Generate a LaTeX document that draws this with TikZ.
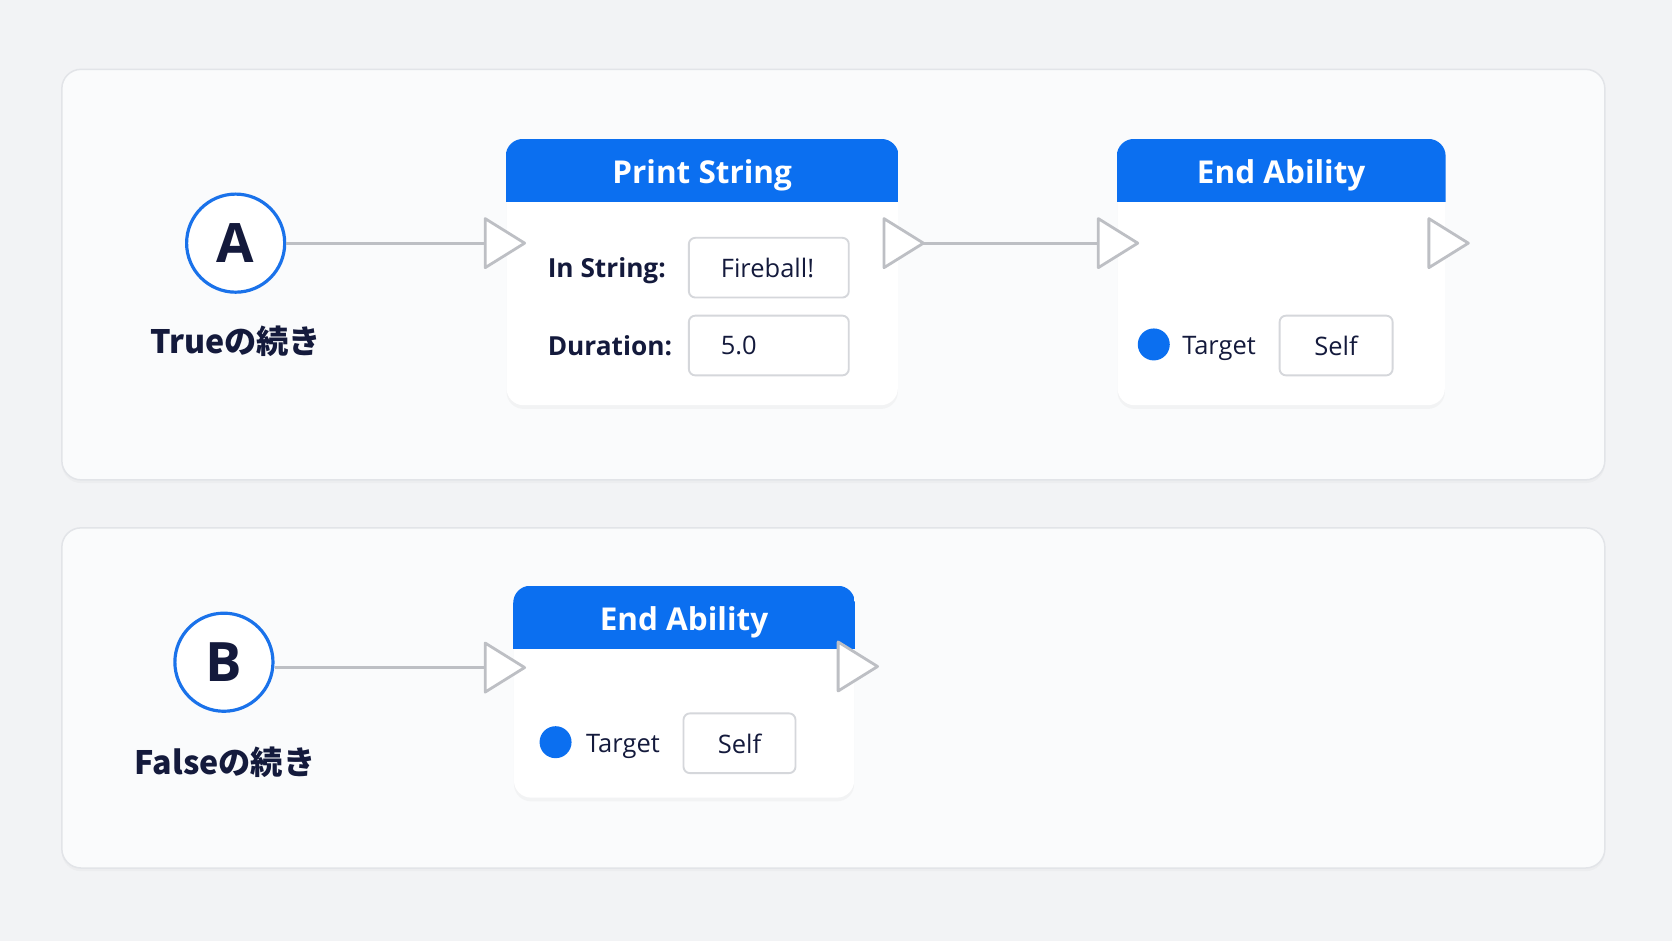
\documentclass[tikz,border=0pt]{standalone}
\usepackage{fontspec}
\setmainfont{Open Sans}
\newfontfamily\jpfont{Noto Sans CJK JP}
\usetikzlibrary{shadows}
\definecolor{bgGray}{HTML}{F2F3F5}
\definecolor{panelFill}{HTML}{FAFBFC}
\definecolor{panelLine}{HTML}{E2E4E8}
\definecolor{hdrBlue}{HTML}{0B6FF0}
\definecolor{ringBlue}{HTML}{1A72EA}
\definecolor{inkNavy}{HTML}{141A3C}
\definecolor{pinGray}{HTML}{BDBFC4}
\definecolor{fieldLine}{HTML}{D5D7DB}
\tikzset{
	panel/.style={fill=panelFill, draw=panelLine, line width=0.4pt, rounded corners=0.18cm, drop shadow={opacity=0.05, shadow xshift=0pt, shadow yshift=-0.03cm}},
	nodebody/.style={fill=white, rounded corners=0.16cm, inner sep=0pt, drop shadow={opacity=0.06, shadow xshift=0pt, shadow yshift=-0.035cm}},
	hdrtext/.style={inner sep=0pt, text=white, text depth=0pt},
	txt/.style={inner sep=0pt, text=inkNavy, text depth=0pt},
	fieldbox/.style={draw=fieldLine, line width=0.5pt, fill=white, rounded corners=0.06cm, minimum height=0.56cm, inner xsep=0.30cm, inner ysep=0pt, text=inkNavy, text depth=0pt},
	lettercirc/.style={circle, draw=ringBlue, line width=0.85pt, fill=white, minimum size=0.92cm, inner sep=0pt, text=inkNavy},
	bluedot/.style={circle, fill=hdrBlue, minimum size=0.30cm, inner sep=0pt},
	wire/.style={draw=pinGray, line width=0.75pt},
	pinline/.style={draw=pinGray, fill=white, line width=0.75pt, line join=round}
}
\begin{document}
\begin{tikzpicture}
	\newcommand{\myfonttitle}[1]{
		\fontsize{8.4}{10}\selectfont\bfseries{#1}
	}\newcommand{\myfontlabel}[1]{
		\fontsize{7.0}{9}\selectfont\bfseries{#1}
	}\newcommand{\myfontfield}[1]{
		\fontsize{6.8}{9}\selectfont{#1}
	}\newcommand{\myfontletter}[1]{
		\fontsize{14.5}{16}\selectfont\bfseries{#1}
	}\newcommand{\myfontjp}[1]{
		\fontsize{8.6}{10}\selectfont\jpfont\bfseries{#1}
	}\newcommand{\execpin}[1]{
		\draw[pinline] (#1) -- ++(0,0.23) -- ++(0.37,-0.23) -- ++(-0.37,-0.23) -- cycle;
		\path (#1) ++(0.37,0) coordinate (#1Tip);
	}%Background
	\useasboundingbox[fill=bgGray] (0,0) rectangle (15.68,-8.82);
	%Panels
	\draw[panel] (0.58,-0.65) rectangle (15.05,-4.50);
	\draw[panel] (0.58,-4.95) rectangle (15.05,-8.14);
	%Node bodies
	\node [nodebody, minimum width=3.67cm, minimum height=2.49cm] (printStr) at (6.585,-2.555) {};
	\node [nodebody, minimum width=3.07cm, minimum height=2.49cm] (endAbilA) at (12.015,-2.555) {};
	\node [nodebody, minimum width=3.19cm, minimum height=1.98cm] (endAbilB) at (6.415,-6.49) {};
	%Blue headers
	\begin{scope}
		\clip[rounded corners=0.16cm] (printStr.south west) rectangle (printStr.north east);
		\fill[hdrBlue] (printStr.north west) rectangle ([yshift=-0.59cm]printStr.north east);
	\end{scope}
	\begin{scope}
		\clip[rounded corners=0.16cm] (endAbilA.south west) rectangle (endAbilA.north east);
		\fill[hdrBlue] (endAbilA.north west) rectangle ([yshift=-0.59cm]endAbilA.north east);
	\end{scope}
	\begin{scope}
		\clip[rounded corners=0.16cm] (endAbilB.south west) rectangle (endAbilB.north east);
		\fill[hdrBlue] (endAbilB.north west) rectangle ([yshift=-0.59cm]endAbilB.north east);
	\end{scope}
	\node [hdrtext] (printStrTitle) at (6.585,-1.61) {\myfonttitle{Print String}};
	\node [hdrtext] (endAbilATitle) at (12.015,-1.61) {\myfonttitle{End Ability}};
	\node [hdrtext] (endAbilBTitle) at (6.415,-5.80) {\myfonttitle{End Ability}};
	%Reroute circles
	\node [lettercirc] (circA) at (2.21,-2.28) {\myfontletter{A}};
	\node [txt] (circALbl) at (2.21,-3.19) {\myfontjp{Trueの続き}};
	\node [lettercirc] (circB) at (2.10,-6.21) {\myfontletter{B}};
	\node [txt] (circBLbl) at (2.11,-7.13) {\myfontjp{Falseの続き}};
	%Exec pins
	\coordinate (psIn) at (4.55,-2.28);
	\coordinate (psOut) at (8.29,-2.28);
	\coordinate (eaAIn) at (10.30,-2.28);
	\coordinate (eaAOut) at (13.40,-2.28);
	\coordinate (eaBIn) at (4.55,-6.26);
	\coordinate (eaBOut) at (7.86,-6.25);
	%Wires
	\draw[wire] (circA) -- (psIn);
	\draw[wire] (8.66,-2.28) -- (eaAIn);
	\draw[wire] (circB.east |- eaBIn) -- (eaBIn);
	\execpin{psIn}
	\execpin{psOut}
	\execpin{eaAIn}
	\execpin{eaAOut}
	\execpin{eaBIn}
	\execpin{eaBOut}
	%Print String inputs
	\node [txt, anchor=west] (inStrLbl) at (5.13,-2.51) {\myfontlabel{In String:}};
	\node [fieldbox, text width=0.90cm, align=left] (inStrVal) at (7.21,-2.51) {\myfontfield{Fireball!}};
	\node [txt, anchor=west] (durLbl) at (5.13,-3.24) {\myfontlabel{Duration:}};
	\node [fieldbox, text width=0.90cm, align=left] (durVal) at (7.21,-3.24) {\myfontfield{5.0}};
	%End Ability target rows
	\node [bluedot] (tgtDotA) at (10.82,-3.23) {};
	\node [txt, anchor=west] (tgtLblA) at (11.08,-3.24) {\myfontfield{Target}};
	\node [fieldbox, minimum width=1.06cm] (tgtValA) at (12.53,-3.24) {\myfontfield{Self}};
	\node [bluedot] (tgtDotB) at (5.21,-6.96) {};
	\node [txt, anchor=west] (tgtLblB) at (5.49,-6.97) {\myfontfield{Target}};
	\node [fieldbox, minimum width=1.05cm] (tgtValB) at (6.935,-6.97) {\myfontfield{Self}};
\end{tikzpicture}
\end{document}
